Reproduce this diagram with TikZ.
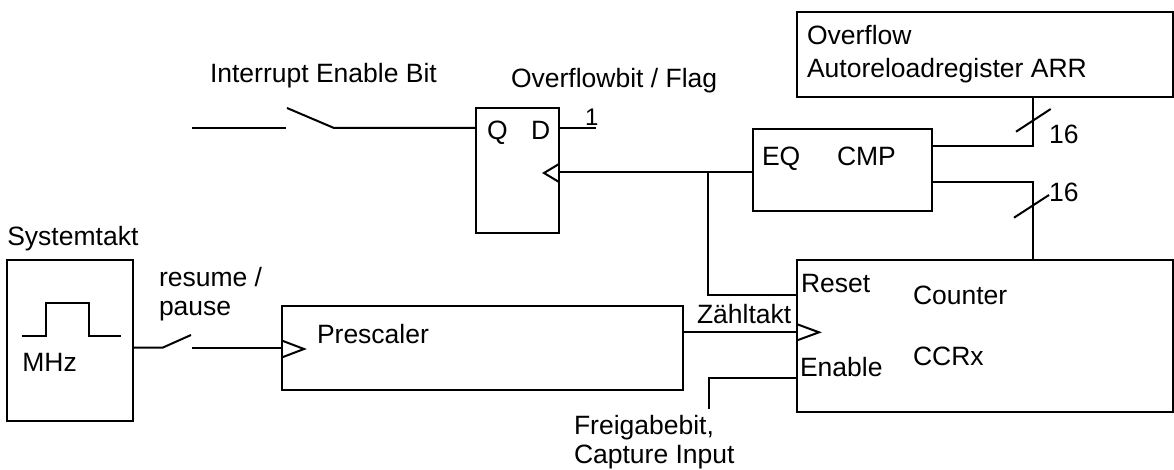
\documentclass[tikz,border=0pt]{standalone}
\usepackage{fontspec}
\setmainfont{Liberation Sans}
\begin{document}
\begin{tikzpicture}[x=1pt,y=-1pt,line width=2pt,
  box/.style={draw,rectangle,inner sep=0pt,outer sep=0pt},
  lbl/.style={inner sep=0pt,outer sep=0pt,anchor=base west,font=\fontsize{26.5pt}{28pt}\selectfont},
  small/.style={inner sep=0pt,outer sep=0pt,anchor=base west,font=\fontsize{24pt}{26pt}\selectfont},
  wire/.style={line cap=rect}]
\useasboundingbox (0,0) rectangle (1174,470);

% boxes
\node[box,minimum width=125.4pt,minimum height=161pt] (sys) at (70,340.5) {};
\node[box,minimum width=401.6pt,minimum height=84.3pt] (pre) at (482.5,347.85) {};
\node[box,minimum width=83pt,minimum height=125pt] (ff) at (517.5,170.5) {};
\node[box,minimum width=179pt,minimum height=81.7pt] (cmp) at (842.2,170.15) {};
\node[box,minimum width=376pt,minimum height=85pt] (arr) at (985,54.8) {};
\node[box,minimum width=376.5pt,minimum height=152.8pt] (cnt) at (984.75,335.9) {};

% texts
\node[lbl] (tie) at (210,83) {Interrupt Enable Bit};
\node[lbl] (tof) at (511,88) {Overflowbit / Flag};
\node[small] (tone) at (585,126) {1};
\node[lbl] (tq) at (487,140) {Q};
\node[lbl] (td) at (531,140) {D};
\node[lbl] (teq) at (762,165.7) {EQ};
\node[lbl] (tcmp) at (837,165.7) {CMP};
\node[lbl] (tov) at (807,45) {Overflow};
\node[lbl] (tarr) at (807,77.3) {Autoreloadregister ARR};
\node[lbl] (t16a) at (1049,144) {16};
\node[lbl] (t16b) at (1049,202) {16};
\node[lbl] (tsys) at (7.3,245) {Systemtakt};
\node[lbl] (tmhz) at (22.3,371.7) {MHz};
\node[lbl] (tres) at (159,286.7) {resume /};
\node[lbl] (tpau) at (159,315) {pause};
\node[lbl] (tpre) at (317,343.3) {Prescaler};
\node[lbl] (tzt) at (697,323.3) {Zähltakt};
\node[lbl] (trst) at (801,292.5) {Reset};
\node[lbl] (tcnt) at (913,304) {Counter};
\node[lbl] (tccr) at (913,365.7) {CCRx};
\node[lbl] (ten) at (800,376.7) {Enable};
\node[lbl] (tfb) at (574,434) {Freigabebit,};
\node[lbl] (tci) at (574,463) {Capture Input};

% coordinates
\coordinate (ie0) at (192,128);
\coordinate (ie1) at (286,128);
\coordinate (ie2) at (287,108);
\coordinate (ie3) at (334,128);
\coordinate (d1) at (596,128);
\coordinate (clk) at (708.3,172.5);
\coordinate (rst) at (708.3,295);
\coordinate (b1) at (1033,146);
\coordinate (b2) at (1033,182.3);
\coordinate (s0) at (163,347.5);
\coordinate (s1) at (191,335);
\coordinate (s2) at (192,348.3);
\coordinate (zt) at (700,332.3);
\coordinate (en) at (709,409.3);
\coordinate (en1) at (709,378.3);

% interrupt enable switch
\draw (ie0) -- (ie1);
\draw (ie2) -- (ie3) -- (ie3 -| ff.west);
% D input
\draw (d1 -| ff.east) -- (d1);
% flip-flop clock
\draw[line join=miter] (ff.east |- 0,164) -- (544,173) -- (ff.east |- 0,182);
\draw (clk -| ff.east) -- (clk -| cmp.west);
\draw (clk) -- (rst) -- (rst -| cnt.west);
% ARR -> CMP
\draw (b1 -| cmp.east) -- (b1) -- (b1 |- arr.south);
\draw (1016,131.7) -- (1050.7,109);
% CMP <- Counter
\draw (b2 -| cmp.east) -- (b2) -- (b2 |- cnt.north);
\draw (1014,217.7) -- (1049,195);
% systemtakt pulse
\draw[line join=miter] (21.7,336) -- (46,336) -- (46,303.3) -- (89.3,303.3) -- (89.3,336) -- (120.7,336);
% resume / pause switch
\draw (s0 -| sys.east) -- (s0) -- (s1);
\draw (s2) -- (s2 -| pre.west);
\draw[line join=miter] (pre.west |- 0,340.5) -- (304,349) -- (pre.west |- 0,357.5);
% Zaehltakt
\draw (zt -| pre.east) -- (zt -| cnt.west);
\draw[line join=miter] (cnt.west |- 0,324) -- (819,332.3) -- (cnt.west |- 0,340.6);
% Enable
\draw (en) -- (en1) -- (en1 -| cnt.west);
\end{tikzpicture}
\end{document}
